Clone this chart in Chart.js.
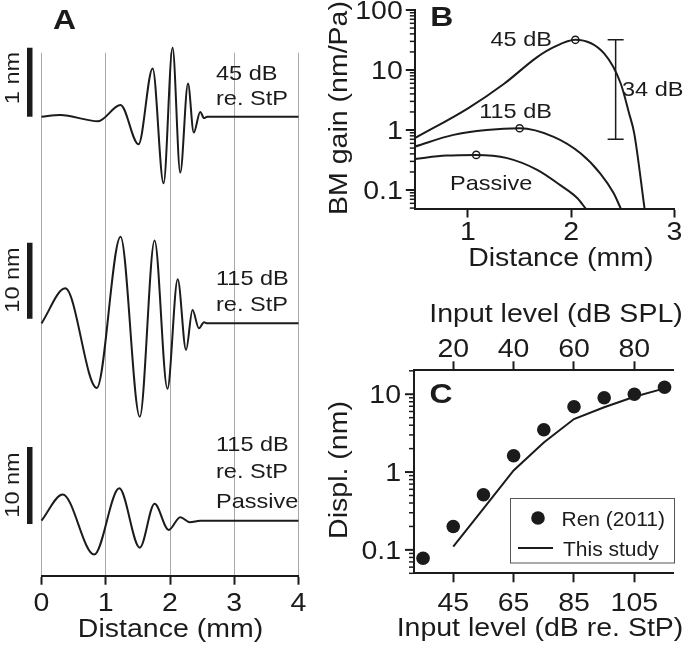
<!DOCTYPE html>
<html>
<head>
<meta charset="utf-8">
<title>BM displacement and gain</title>
<script src="https://cdn.jsdelivr.net/npm/chart.js@4.4.1/dist/chart.umd.min.js"></script>
<style>
  body { margin: 0; background: #fff; }
  #fig { position: relative; width: 685px; height: 647px; overflow: hidden; }
  canvas { position: absolute; }
</style>
</head>
<body>
<div id="fig">
  <canvas id="a1" width="320" height="210" style="left:0;top:0"></canvas>
  <canvas id="a2" width="320" height="230" style="left:0;top:210px"></canvas>
  <canvas id="a3" width="320" height="227" style="left:0;top:420px"></canvas>
  <canvas id="b" width="365" height="290" style="left:320px;top:0"></canvas>
  <canvas id="c" width="365" height="357" style="left:320px;top:290px"></canvas>
</div>
<script>
// Panel A: BM displacement along the cochlea (distance in mm, displacement in nm)
const dist45 = [0, 0.29, 0.88, 1.23, 1.51, 1.73, 1.90, 2.04, 2.16, 2.28, 2.37, 2.47, 2.53, 2.58, 4];
const disp45 = [0, 0.025, -0.065, 0.17, -0.40, 0.70, -0.965, 1.0, -0.81, 0.48, -0.23, 0.07, -0.02, 0, 0];
const dist115 = [0, 0.37, 0.86, 1.23, 1.53, 1.76, 1.96, 2.12, 2.25, 2.35, 2.45, 2.53, 2.58, 4];
const disp115 = [0, 4.6, -8.5, 11.4, -12.3, 10.9, -8.6, 5.8, -3.5, 1.76, -0.66, 0.13, 0, 0];
const distPassive = [0, 0.33, 0.82, 1.21, 1.53, 1.76, 1.98, 2.16, 2.31, 2.47, 4];
const dispPassive = [0, 3.4, -4.4, 4.2, -3.5, 2.2, -1.2, 0.45, -0.2, 0, 0];
const distTicks = [0, 1, 2, 3, 4];

// Panel B: BM gain (nm/Pa) vs distance (mm)
const gainDist45 = [0.485, 1.0, 1.35, 1.67, 1.83, 2.04, 2.32, 2.48, 2.56, 2.61, 2.71];
const gain45 = [0.73, 2.3, 5.9, 16.4, 24, 31.9, 18.7, 5.9, 1.9, 0.88, 0.049];
const gainDist115 = [0.485, 0.86, 1.18, 1.50, 1.83, 2.09, 2.28, 2.41, 2.48];
const gain115 = [0.53, 0.83, 1.0, 1.07, 0.77, 0.41, 0.19, 0.089, 0.049];
const gainDistPassive = [0.485, 0.79, 1.08, 1.38, 1.67, 1.89, 2.06, 2.14];
const gainPassive = [0.33, 0.375, 0.385, 0.34, 0.217, 0.122, 0.073, 0.049];
const peakDist = [2.04, 1.50, 1.08];
const peakGain = [31.9, 1.07, 0.385];
const spanDist = [2.43, 2.43];
const spanGain = [32, 0.70];
const gainTicks = [0.1, 1, 10, 100];
const gainDistTicks = [1, 2, 3];

// Panel C: displacement (nm) vs input level (dB re. StP)
const renLevel = [35, 45, 55, 65, 75, 85, 95, 105, 115];
const renDispl = [0.078, 0.20, 0.51, 1.62, 3.5, 6.9, 9.0, 10, 12.3];
const studyLevel = [45, 55, 65, 75, 85, 95, 105, 115];
const studyDispl = [0.11, 0.34, 1.05, 2.4, 4.8, 6.8, 9.3, 11.9];
const displTicks = [0.1, 1, 10];
const levelTicks = [45, 65, 85, 105];
const splTicks = [20, 40, 60, 80];

const FONT = "'Liberation Sans', Arial, Helvetica, sans-serif";
const INK = '#1b1b1b';
const GRID = '#a9a9a9';
const BIG = { size: 25, sx: 1.14 };
const NOTE = { size: 21, sx: 1.12 };
const LEG = { size: 21, sx: 1.0 };
const LETTER = { size: 28, sx: 1.14, bold: true };

Chart.defaults.font.family = FONT;
Chart.defaults.color = INK;
Chart.defaults.animation = false;
Chart.defaults.plugins.legend.display = false;
Chart.defaults.plugins.tooltip.enabled = false;

const pts = (xs, ys) => xs.map((x, i) => ({ x: x, y: ys[i] }));

// y is the cap centre of the text; the font is drawn a little wider, like the original
function drawText(ctx, str, x, y, f, align, rot) {
  ctx.save();
  ctx.translate(x, y);
  if (rot) ctx.rotate(rot * Math.PI / 180);
  ctx.scale(f.sx, 1);
  ctx.font = (f.bold ? 'bold ' : '') + f.size + 'px ' + FONT;
  ctx.fillStyle = INK;
  ctx.textAlign = align || 'left';
  ctx.textBaseline = 'alphabetic';
  ctx.fillText(str, 0, f.size * 0.358);
  ctx.restore();
}

// free text, given in page coordinates
function notes(ox, oy, items) {
  return {
    id: 'notes',
    afterDraw(chart) {
      items.forEach(it => drawText(chart.ctx, it[0], it[1] - ox, it[2] - oy, it[3], it[4], it[5]));
    }
  };
}

// tick labels placed by the scale
function tickLabels(id, scaleId, values, side, gap) {
  return {
    id: id,
    afterDraw(chart) {
      const s = chart.scales[scaleId];
      values.forEach(v => {
        const p = s.getPixelForValue(v);
        if (side === 'left') drawText(chart.ctx, String(v), s.right - gap, p, BIG, 'right');
        else if (side === 'top') drawText(chart.ctx, String(v), p, s.bottom - gap, BIG, 'center');
        else drawText(chart.ctx, String(v), p, s.top + gap, BIG, 'center');
      });
    }
  };
}

// major and minor tick marks of a log axis
function logMarks(scaleId) {
  return {
    id: 'logMarks',
    afterDraw(chart) {
      const s = chart.scales[scaleId];
      const ctx = chart.ctx;
      ctx.save();
      ctx.strokeStyle = INK;
      const lo = Math.floor(Math.log10(s.min));
      const hi = Math.ceil(Math.log10(s.max));
      for (let e = lo; e <= hi; e++) {
        for (let m = 1; m < 10; m++) {
          const v = m * Math.pow(10, e);
          if (v < s.min * 0.999 || v > s.max * 1.001) continue;
          const y = s.getPixelForValue(v);
          ctx.lineWidth = m === 1 ? 2 : 1.5;
          ctx.beginPath();
          ctx.moveTo(s.right, y);
          ctx.lineTo(s.right - (m === 1 ? 9 : 5), y);
          ctx.stroke();
        }
      }
      ctx.restore();
    }
  };
}

// vertical scale bar in nm
function scaleBar(lo, len) {
  return {
    id: 'scaleBar',
    afterDraw(chart) {
      const y = chart.scales.y;
      const top = y.getPixelForValue(lo + len);
      const bot = y.getPixelForValue(lo);
      chart.ctx.fillStyle = INK;
      chart.ctx.fillRect(27, top, 5.5, bot - top);
    }
  };
}

function traceChart(id, dist, disp, yMin, yMax, padTop, axisH, extra) {
  const withAxis = axisH > 0;
  return new Chart(document.getElementById(id), {
    type: 'line',
    data: {
      datasets: [{
        data: pts(dist, disp),
        borderColor: INK,
        borderWidth: 2,
        pointRadius: 0,
        cubicInterpolationMode: 'monotone',
        clip: false
      }]
    },
    options: {
      responsive: false,
      layout: { padding: { left: 41.5, right: 21.5, top: padTop, bottom: 0 } },
      scales: {
        x: {
          type: 'linear', min: 0, max: 4,
          afterBuildTicks: s => { s.ticks = distTicks.map(v => ({ value: v })); },
          afterFit: s => { s.height = axisH; s.paddingLeft = 0; s.paddingRight = 0; },
          grid: { color: GRID, lineWidth: 1, drawTicks: withAxis, tickLength: 9, tickWidth: 2, tickColor: INK },
          border: { display: withAxis, color: INK, width: 2 },
          ticks: { display: false }
        },
        y: { display: false, min: yMin, max: yMax }
      }
    },
    plugins: extra
  });
}

traceChart('a1', dist45, disp45, -1.352, 0.928, 52.7, 0, [
  scaleBar(0, 1),
  notes(0, 0, [
    ['A', 64.5, 18.5, LETTER, 'center'],
    ['45 dB', 216, 72, NOTE],
    ['re. StP', 216, 97, NOTE],
    ['1 nm', 11, 78, NOTE, 'center', -90]
  ])
]);

traceChart('a2', dist115, disp115, -15.35, 14.91, 0, 0, [
  scaleBar(0.6, 10),
  notes(0, 210, [
    ['115 dB', 216, 277, NOTE],
    ['re. StP', 216, 303, NOTE],
    ['10 nm', 11, 280, NOTE, 'center', -90]
  ])
]);

traceChart('a3', distPassive, dispPassive, -7.14, 10.48, 20, 71.3, [
  scaleBar(-0.43, 10),
  tickLabels('aTicks', 'x', distTicks, 'bottom', 26),
  notes(0, 420, [
    ['115 dB', 216, 443, NOTE],
    ['re. StP', 216, 470, NOTE],
    ['Passive', 216, 500, NOTE],
    ['10 nm', 11, 485, NOTE, 'center', -90],
    ['Distance (mm)', 170.5, 628, BIG, 'center']
  ])
]);

const curve = { borderColor: INK, borderWidth: 2, pointRadius: 0, cubicInterpolationMode: 'monotone' };

new Chart(document.getElementById('b'), {
  type: 'line',
  data: {
    datasets: [
      Object.assign({ label: '45 dB', data: pts(gainDist45, gain45) }, curve),
      Object.assign({ label: '115 dB', data: pts(gainDist115, gain115) }, curve),
      Object.assign({ label: 'Passive', data: pts(gainDistPassive, gainPassive) }, curve),
      {
        label: 'Peaks', data: pts(peakDist, peakGain), showLine: false,
        pointRadius: 3.6, pointBorderWidth: 1.5, pointBorderColor: INK, pointBackgroundColor: 'rgba(255,255,255,0)'
      },
      {
        label: '34 dB', data: pts(spanDist, spanGain), borderColor: INK, borderWidth: 1.5,
        pointStyle: 'line', pointRadius: 8, pointBorderWidth: 1.5, pointBorderColor: INK
      }
    ]
  },
  options: {
    responsive: false,
    layout: { padding: { left: 0, right: 10.5, top: 10, bottom: 0 } },
    scales: {
      x: {
        type: 'linear', min: 0.485, max: 3,
        afterBuildTicks: s => { s.ticks = gainDistTicks.map(v => ({ value: v })); },
        afterFit: s => { s.height = 81.5; s.paddingLeft = 0; s.paddingRight = 0; },
        grid: { drawOnChartArea: false, drawTicks: true, tickLength: 9, tickWidth: 2, tickColor: INK },
        border: { color: INK, width: 2 },
        ticks: { display: false }
      },
      y: {
        type: 'logarithmic', min: 0.0492, max: 100,
        afterFit: s => { s.width = 94.8; s.paddingTop = 0; s.paddingBottom = 0; },
        grid: { drawOnChartArea: false, drawTicks: false },
        border: { color: INK, width: 2 },
        ticks: { display: false }
      }
    }
  },
  plugins: [
    logMarks('y'),
    tickLabels('bY', 'y', gainTicks, 'left', 12),
    tickLabels('bX', 'x', gainDistTicks, 'bottom', 22.5),
    notes(320, 0, [
      ['B', 441.7, 15.5, LETTER, 'center'],
      ['45 dB', 552, 38.3, NOTE, 'right'],
      ['115 dB', 552, 110, NOTE, 'right'],
      ['Passive', 450, 182, NOTE],
      ['34 dB', 622, 88.3, NOTE],
      ['BM gain (nm/Pa)', 338, 108, BIG, 'center', -90],
      ['Distance (mm)', 560.8, 257, BIG, 'center']
    ])
  ]
});

const legendBox = {
  id: 'legendBox',
  afterDraw(chart) {
    const ctx = chart.ctx;
    const ds = chart.data.datasets;
    const ox = 320, oy = 290;
    ctx.save();
    ctx.strokeStyle = '#555';
    ctx.lineWidth = 1;
    ctx.strokeRect(510.5 - ox, 498.5 - oy, 164, 64.5);
    ctx.fillStyle = INK;
    ctx.beginPath();
    ctx.arc(538 - ox, 518 - oy, ds[0].pointRadius, 0, Math.PI * 2);
    ctx.fill();
    ctx.strokeStyle = INK;
    ctx.lineWidth = ds[1].borderWidth;
    ctx.beginPath();
    ctx.moveTo(518 - ox, 548 - oy);
    ctx.lineTo(553 - ox, 548 - oy);
    ctx.stroke();
    ctx.restore();
    drawText(ctx, ds[0].label, 561.5 - ox, 518 - oy, LEG);
    drawText(ctx, ds[1].label, 563 - ox, 548 - oy, LEG);
  }
};

new Chart(document.getElementById('c'), {
  type: 'line',
  data: {
    datasets: [
      {
        label: 'Ren (2011)', data: pts(renLevel, renDispl), showLine: false,
        pointRadius: 6.8, pointBackgroundColor: INK, pointBorderWidth: 0
      },
      {
        label: 'This study', data: pts(studyLevel, studyDispl), borderColor: INK, borderWidth: 2,
        pointRadius: 0, tension: 0
      }
    ]
  },
  options: {
    responsive: false,
    layout: { padding: { left: 0, right: 11.7, top: 0, bottom: 0 } },
    scales: {
      x: {
        type: 'linear', position: 'bottom', min: 32, max: 117.9,
        afterBuildTicks: s => { s.ticks = levelTicks.map(v => ({ value: v })); },
        afterFit: s => { s.height = 73.7; s.paddingLeft = 0; s.paddingRight = 0; },
        grid: { drawOnChartArea: false, drawTicks: true, tickLength: 9, tickWidth: 2, tickColor: INK },
        border: { color: INK, width: 2 },
        ticks: { display: false }
      },
      x2: {
        type: 'linear', axis: 'x', position: 'top', min: 7, max: 92.9,
        afterBuildTicks: s => { s.ticks = splTicks.map(v => ({ value: v })); },
        afterFit: s => { s.height = 80.3; s.paddingLeft = 0; s.paddingRight = 0; },
        grid: { drawOnChartArea: false, drawTicks: true, tickLength: 9, tickWidth: 2, tickColor: INK },
        border: { color: INK, width: 2 },
        ticks: { display: false }
      },
      y: {
        type: 'logarithmic', min: 0.05, max: 20.3,
        afterFit: s => { s.width = 94; s.paddingTop = 0; s.paddingBottom = 0; },
        grid: { drawOnChartArea: false, drawTicks: false },
        border: { color: INK, width: 2 },
        ticks: { display: false }
      }
    }
  },
  plugins: [
    logMarks('y'),
    tickLabels('cY', 'y', displTicks, 'left', 13),
    tickLabels('cX', 'x', levelTicks, 'bottom', 28.7),
    tickLabels('cX2', 'x2', splTicks, 'top', 22.3),
    legendBox,
    notes(320, 290, [
      ['C', 441, 392.5, LETTER, 'center'],
      ['Input level (dB SPL)', 556, 313.3, BIG, 'center'],
      ['Input level (dB re. StP)', 540, 626.7, BIG, 'center'],
      ['Displ. (nm)', 338, 470, BIG, 'center', -90]
    ])
  ]
});
</script>
</body>
</html>
